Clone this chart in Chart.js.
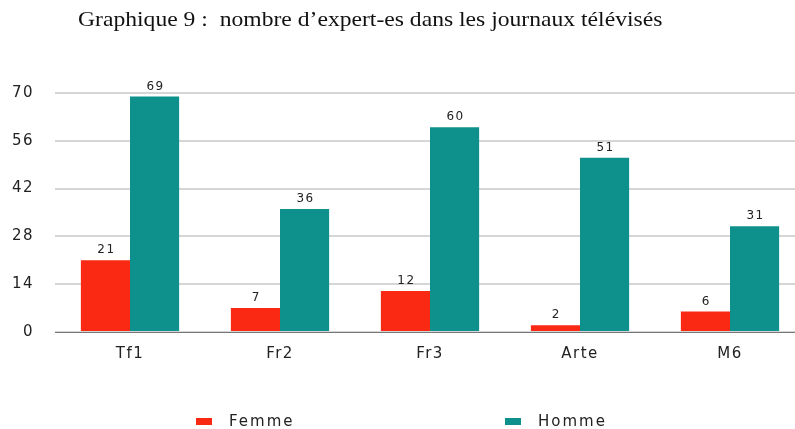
<!DOCTYPE html>
<html>
<head>
<meta charset="utf-8">
<script src="https://cdn.jsdelivr.net/npm/chart.js@4.4.0/dist/chart.umd.min.js"></script>
<style>
	body { margin: 0; background: #fff; }
	#wrap { position: relative; width: 795px; height: 429px; overflow: hidden; }
	#chartBox { position: absolute; left: 0; top: 0; width: 805px; height: 429px; }
	#title {
		position: absolute; left: 78px; top: 7px; white-space: nowrap;
		font-family: "Liberation Serif", serif; font-size: 22px; line-height: 24px; color: #111;
		transform-origin: left top;
	}
	.leg { position: absolute; top: 412px; font-family: "DejaVu Sans", sans-serif;
		font-size: 15px; letter-spacing: 2px; color: #222; white-space: nowrap; }
	.leg i { position: absolute; left: 0; top: 6px; width: 16px; height: 7px; }
	.leg span { position: absolute; left: 33px; top: 0; }
</style>
</head>
<body>
<div id="wrap">
	<div id="chartBox"><canvas id="chart9"></canvas></div>
	<div id="title">Graphique 9 :&nbsp; nombre d’expert-es dans les journaux télévisés</div>
	<div class="leg" style="left:196px"><i id="legF"></i><span id="legFt"></span></div>
	<div class="leg" style="left:505px"><i id="legH"></i><span id="legHt"></span></div>
</div>
<script>
/* Chart data */
var chaines = ['Tf1', 'Fr2', 'Fr3', 'Arte', 'M6'];
var femmes = [21, 7, 12, 2, 6];
var hommes = [69, 36, 60, 51, 31];
var yTicks = [0, 14, 28, 42, 56, 70];
var labelFemme = 'Femme';
var labelHomme = 'Homme';

var colFemme = '#fa2914';
var colHomme = '#0e918d';

/* Fit the serif title to the width of the original */
var title = document.getElementById('title');
title.style.transform = 'scaleX(' + (584 / title.offsetWidth) + ')';

/* Legend built in html (the spacing is too wide for Chart.js legend) */
document.getElementById('legF').style.background = colFemme;
document.getElementById('legH').style.background = colHomme;
document.getElementById('legFt').textContent = labelFemme;
document.getElementById('legHt').textContent = labelHomme;

/* Wide lettering like the reference */
const spacing = {
	id: 'spacing',
	beforeUpdate(chart) { chart.ctx.letterSpacing = '1.5px'; },
	beforeDraw(chart) { chart.ctx.letterSpacing = '1.5px'; }
};

/* Value above each bar */
const valueLabels = {
	id: 'valueLabels',
	afterDatasetsDraw(chart) {
		const ctx = chart.ctx;
		ctx.save();
		ctx.font = '12px "DejaVu Sans", sans-serif';
		ctx.fillStyle = '#222';
		ctx.textAlign = 'center';
		ctx.textBaseline = 'bottom';
		chart.data.datasets.forEach(function(ds, i) {
			chart.getDatasetMeta(i).data.forEach(function(bar, j) {
				ctx.fillText(ds.data[j], bar.x + 1, bar.y - 4);
			});
		});
		ctx.restore();
	}
};

const ctx = document.getElementById('chart9').getContext('2d');

new Chart(ctx, {
	type: 'bar',
	data: {
		labels: chaines,
		datasets: [
			{ label: labelFemme, data: femmes, backgroundColor: colFemme,
			  barPercentage: 1, categoryPercentage: 0.655 },
			{ label: labelHomme, data: hommes, backgroundColor: colHomme,
			  barPercentage: 1, categoryPercentage: 0.655 }
		]
	},
	options: {
		responsive: true,
		maintainAspectRatio: false,
		animation: false,
		layout: { padding: { left: 10, right: 0, top: 93, bottom: 61 } },
		plugins: {
			legend: { display: false },
			title: { display: false },
			tooltip: { enabled: false }
		},
		scales: {
			x: {
				grid: { display: false },
				border: { color: '#777', width: 1 },
				ticks: { color: '#222', padding: 5,
					font: { family: 'DejaVu Sans', size: 15 } }
			},
			y: {
				min: 0, max: 70,
				afterBuildTicks: function(axis) {
					axis.ticks = yTicks.map(function(v) { return { value: v }; });
				},
				afterFit: function(axis) { axis.width = 45; },
				border: { display: false },
				grid: { color: '#d6d6d6', lineWidth: 2, drawTicks: false },
				ticks: { color: '#222', padding: 21,
					font: { family: 'DejaVu Sans', size: 15 } }
			}
		}
	},
	plugins: [spacing, valueLabels]
});
</script>
</body>
</html>
